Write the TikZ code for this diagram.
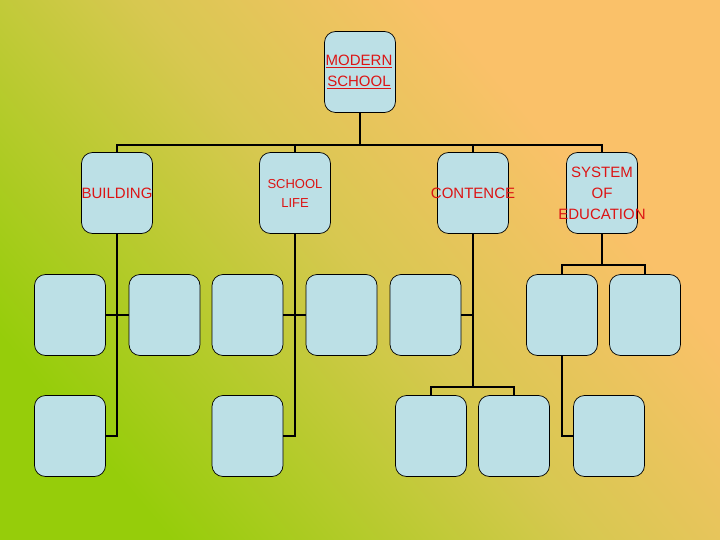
\documentclass[tikz,border=0pt]{standalone}
\usepackage{fontspec}
\setmainfont{Liberation Sans}
\definecolor{bgg}{RGB}{150,205,10}
\definecolor{bgy}{RGB}{215,200,80}
\definecolor{bgo}{RGB}{250,193,105}
\definecolor{boxc}{RGB}{188,224,230}
\definecolor{txt}{RGB}{220,20,20}
\pgfdeclarehorizontalshading{bgsh}{100bp}{color(0bp)=(bgg);color(25bp)=(bgg);color(50bp)=(bgy);color(68bp)=(bgo);color(100bp)=(bgo)}
\begin{document}
\begin{tikzpicture}[x=1pt,y=-1pt,
  bx/.style={draw=black,line width=0.7pt,fill=boxc,rounded corners=11pt,minimum width=71pt,minimum height=81pt,inner sep=0pt},
  lbl/.style={text=txt,font=\fontsize{15}{21}\selectfont,align=center},
  con/.style={line width=1.8pt}]
\shade[shading=bgsh,shading angle=40] (0,0) rectangle (720,540);
\useasboundingbox (0,0) rectangle (720,540);
\node[bx] (root) at (360,72) {};
\node[bx] (b) at (117,193) {};
\node[bx] (s) at (295,193) {};
\node[bx] (c) at (473,193) {};
\node[bx] (e) at (602,193) {};
% row 3
\node[bx] (b1) at (70,315) {};
\node[bx] (b2) at (164.5,315) {};
\node[bx] (s1) at (247.5,315) {};
\node[bx] (s2) at (341.5,315) {};
\node[bx] (c1) at (425.5,315) {};
\node[bx] (e1) at (562,315) {};
\node[bx] (e2) at (645,315) {};
% row 4
\node[bx] (b3) at (70,436) {};
\node[bx] (s3) at (247.5,436) {};
\node[bx] (c2) at (431,436) {};
\node[bx] (c3) at (514,436) {};
\node[bx] (e3) at (609,436) {};
% connectors
\draw[con] (root.south) -- (360,145);
\draw[con] (b.north) -- (117,145) -- (602,145) -- (e.north);
\draw[con] (s.north) -- (295,145);
\draw[con] (c.north) -- (473,145);
\draw[con] (b.south) |- (b3.east);
\draw[con] (b1.east) -- (b2.west);
\draw[con] (s.south) |- (s3.east);
\draw[con] (s1.east) -- (s2.west);
\draw[con] (c.south) -- (473,387);
\draw[con] (c1.east) -- (473,315);
\draw[con] (c2.north) |- (473,387) -| (c3.north);
\draw[con] (e.south) -- (602,265);
\draw[con] (e1.north) |- (602,265) -| (e2.north);
\draw[con] (e1.south) |- (e3.west);
% labels
\node[lbl] (t0) at (359,72) {\underline{MODERN}\\\underline{SCHOOL}};
\node[lbl] (t1) at (117,193) {BUILDING};
\node[lbl,font=\fontsize{13}{19}\selectfont] (t2) at (295,193) {SCHOOL\\LIFE};
\node[lbl] (t3) at (473,193) {CONTENCE};
\node[lbl] (t4) at (602,193) {SYSTEM\\OF\\EDUCATION};
\end{tikzpicture}
\end{document}
